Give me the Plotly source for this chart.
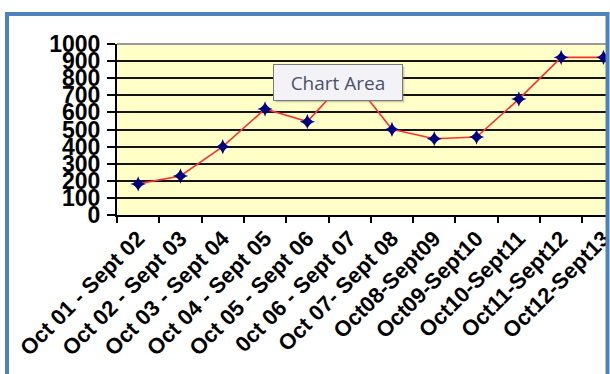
import plotly.graph_objects as go

categories = ["Oct 01 - Sept 02", "Oct 02 - Sept 03", "Oct 03 - Sept 04", "Oct 04 - Sept 05",
              "Oct 05 - Sept 06", "0ct 06 - Sept 07", "Oct 07- Sept 08", "Oct08-Sept09",
              "Oct09-Sept10", "Oct10-Sept11", "Oct11-Sept12", "Oct12-Sept13"]
values = [182, 228, 400, 620, 546, 815, 501, 446, 456, 678, 922, 922]
y_ticks = [0, 100, 200, 300, 400, 500, 600, 700, 800, 900, 1000]

W, H = 610, 374
L, R, T, B = 117, 4, 44, 159
pw, ph = W - L - R, H - T - B

def px(x):
    return (x - L) / pw

def py(y):
    return (H - B - y) / ph

fig = go.Figure()
fig.add_trace(go.Scatter(
    x=categories, y=values, mode="lines+markers",
    line=dict(color="#ff3030", width=1.6),
    marker=dict(symbol="star-diamond", size=11, color="#000080", line=dict(width=0)),
    hoverinfo="skip", showlegend=False,
))

fig.update_layout(
    width=W, height=H,
    margin=dict(l=L, r=R, t=T, b=B, pad=0),
    paper_bgcolor="white", plot_bgcolor="#ffffc8",
    font=dict(family="Liberation Sans, Arial", color="black"),
    xaxis=dict(
        type="category", categoryorder="array", categoryarray=categories,
        range=[-0.5, 11.06], tickangle=-45, tickson="boundaries",
        ticks="outside", ticklen=6, tickwidth=1.5, tickcolor="black",
        showline=True, linecolor="black", linewidth=2,
        showgrid=False, zeroline=False, automargin=False,
        ticklabeloverflow="allow",
        tickfont=dict(size=22, weight="bold", family="Liberation Sans, Arial"),
    ),
    yaxis=dict(
        range=[0, 1000], tickmode="array", tickvals=y_ticks,
        ticktext=[str(v) for v in y_ticks],
        ticks="outside", ticklen=8, tickwidth=1.5, tickcolor="black",
        showline=True, linecolor="black", linewidth=2,
        showgrid=True, gridcolor="#141414", gridwidth=1.8,
        zeroline=False, automargin=False, ticklabelstandoff=2,
        ticklabeloverflow="allow",
        tickfont=dict(size=23, weight="bold", family="Liberation Sans, Arial"),
    ),
)

# plot area top border
fig.add_shape(type="line", xref="paper", yref="paper", x0=0, x1=1, y0=1, y1=1,
              line=dict(color="#9a9a9a", width=2), layer="above")
# blue selection frame
fig.add_shape(type="rect", xref="paper", yref="paper",
              x0=px(7), x1=px(607.5), y0=py(14), y1=py(390),
              line=dict(color="#4f81bd", width=4), layer="above")
# tooltip shadow + tooltip
fig.add_annotation(xref="paper", yref="paper", x=px(340), y=py(84.5), xanchor="center", yanchor="middle",
                   text=" ", showarrow=False, width=122, height=29, borderpad=3, borderwidth=1,
                   bgcolor="rgba(120,120,120,0.35)", bordercolor="rgba(120,120,120,0.0)")
fig.add_annotation(xref="paper", yref="paper", x=px(338), y=py(82.5), xanchor="center", yanchor="middle",
                   text="Chart Area", showarrow=False, width=122, height=29, borderpad=3, borderwidth=1,
                   bgcolor="#f3f3f7", bordercolor="#7a7a7a",
                   font=dict(family="Open Sans", size=19, color="#4a5070"))

fig.write_html("out.html")
